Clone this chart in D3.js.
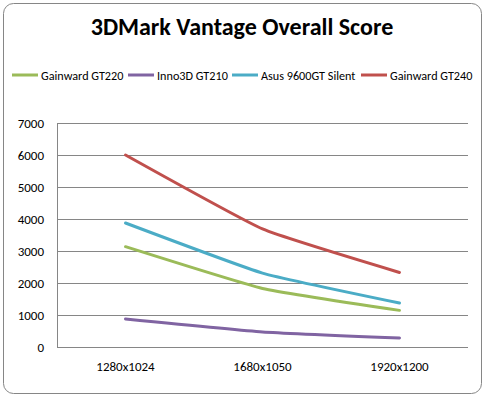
<!DOCTYPE html>
<html>
<head>
<meta charset="utf-8">
<script src="https://cdn.jsdelivr.net/npm/d3@7"></script>
<style>
  body { margin: 0; background: #fff; }
  svg text { font-family: Carlito, "Open Sans", "Liberation Sans", sans-serif; }
</style>
</head>
<body>
<script>
(function(window){
    'use strict'

    var categories = ['1280x1024', '1680x1050', '1920x1200'];
    var seriesNames = ['Gainward GT220', 'Inno3D GT210', 'Asus 9600GT Silent', 'Gainward GT240'];
    var seriesColors = ['#9bbb59', '#8064a2', '#4bacc6', '#c0504d'];
    var gt220 = [3135, 1830, 1145];
    var gt210 = [875, 470, 280];
    var asus9600 = [3875, 2310, 1375];
    var gt240 = [6000, 3690, 2330];
    var yTicks = [0, 1000, 2000, 3000, 4000, 5000, 6000, 7000];

    var seriesValues = [gt220, gt210, asus9600, gt240];
    var W = 485, H = 397;
    var plot = {left: 57, right: 468, top: 123, bottom: 347};
    var font = 'Carlito, "Open Sans", "Liberation Sans", sans-serif';

    var svg = d3.select('body').append('svg')
        .attr('width', W)
        .attr('height', H);

    // outer frame
    svg.append('rect')
        .attr('x', 3.5).attr('y', 3.5)
        .attr('width', W - 7).attr('height', H - 7)
        .attr('rx', 10).attr('ry', 10)
        .attr('fill', '#fff')
        .attr('stroke', '#868686');

    svg.append('text')
        .attr('x', 242).attr('y', 35)
        .attr('text-anchor', 'middle')
        .attr('font-size', 24)
        .attr('font-weight', 'bold')
        .text('3DMark Vantage Overall Score');

    var x = d3.scaleBand().domain(categories).range([plot.left, plot.right]);
    var y = d3.scaleLinear().domain([0, 7000]).range([plot.bottom, plot.top]);

    // grid lines
    svg.append('g')
        .selectAll('line')
        .data(yTicks)
        .enter().append('line')
        .attr('x1', plot.left).attr('x2', plot.right)
        .attr('y1', function(d) { return Math.round(y(d)) + 0.5; })
        .attr('y2', function(d) { return Math.round(y(d)) + 0.5; })
        .attr('stroke', '#868686');

    svg.append('line')
        .attr('x1', plot.left + 0.5).attr('x2', plot.left + 0.5)
        .attr('y1', plot.top).attr('y2', plot.bottom + 0.5)
        .attr('stroke', '#868686');

    var yAxis = svg.append('g')
        .attr('transform', 'translate(' + plot.left + ',0)')
        .call(d3.axisLeft(y).tickValues(yTicks).tickFormat(d3.format('d')).tickSize(0).tickPadding(13));
    yAxis.select('.domain').remove();
    yAxis.selectAll('text').attr('font-size', 13).attr('fill', '#000').style('font-family', font);

    var xAxis = svg.append('g')
        .attr('transform', 'translate(0,' + plot.bottom + ')')
        .call(d3.axisBottom(x).tickSize(0).tickPadding(15));
    xAxis.select('.domain').remove();
    xAxis.selectAll('text').attr('font-size', 13).attr('fill', '#000').style('font-family', font);

    var line = d3.line()
        .x(function(d, i) { return x(categories[i]) + x.bandwidth() / 2; })
        .y(function(d) { return y(d); })
        .curve(d3.curveCardinal.tension(0.6));

    svg.append('g')
        .selectAll('path')
        .data(seriesValues)
        .enter().append('path')
        .attr('d', line)
        .attr('fill', 'none')
        .attr('stroke', function(d, i) { return seriesColors[i]; })
        .attr('stroke-width', 3)
        .attr('stroke-linecap', 'round');

    // legend
    var legendX = [12, 128, 232, 361];
    var lg = svg.append('g').selectAll('g')
        .data(seriesNames)
        .enter().append('g')
        .attr('transform', function(d, i) { return 'translate(' + legendX[i] + ',75)'; });
    lg.append('line')
        .attr('x1', 0).attr('x2', 26)
        .attr('stroke', function(d, i) { return seriesColors[i]; })
        .attr('stroke-width', 3);
    lg.append('text')
        .attr('x', 29).attr('y', 4.5)
        .attr('font-size', 12.2)
        .text(function(d) { return d; });

})(window);
</script>
</body>
</html>
